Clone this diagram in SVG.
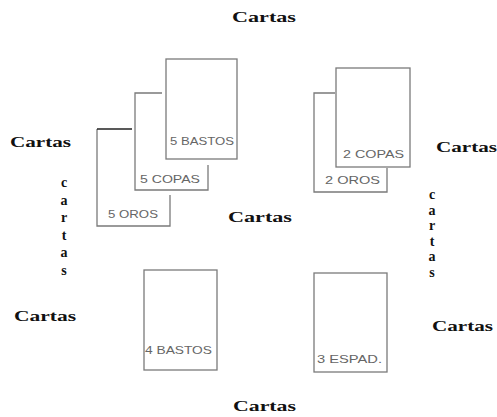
<svg xmlns="http://www.w3.org/2000/svg" width="497" height="417" viewBox="0 0 497 417">
<style>
.card{fill:#fff;stroke:#7a7a7a;stroke-width:1.3}
.edge{fill:none;stroke:#7a7a7a;stroke-width:1.3}
.lbl{font-family:"Liberation Sans",Arial,sans-serif;font-size:11.5px;fill:#666}
.ct{font-family:"Liberation Serif","Times New Roman",serif;font-weight:bold;font-size:14px;fill:#111}
.v{font-family:"Liberation Serif","Times New Roman",serif;font-weight:bold;font-size:14px;fill:#111;text-anchor:middle}
</style>
<rect width="497" height="417" fill="#fff"/>
<g id="connectors"/>
<g id="card-5oros">
<polyline class="edge" points="97,129 97,226 170,226 170,195"/>
<line x1="97" y1="129" x2="132" y2="129" stroke="#222" stroke-width="1.6"/>
<text class="lbl" x="108" y="218" textLength="50" lengthAdjust="spacingAndGlyphs">5 OROS</text>
</g>
<g id="card-5copas">
<polyline class="edge" points="162,93 135,93 135,190 208,190 208,165"/>
<text class="lbl" x="140" y="183" textLength="60" lengthAdjust="spacingAndGlyphs">5 COPAS</text>
</g>
<g id="card-5bastos">
<rect class="card" x="166" y="59" width="71" height="100"/>
<text class="lbl" x="170" y="145" textLength="64" lengthAdjust="spacingAndGlyphs">5 BASTOS</text>
</g>
<g id="card-2oros">
<polyline class="edge" points="335,93 314,93 314,192 387,192 387,168"/>
<text class="lbl" x="325" y="184" textLength="55" lengthAdjust="spacingAndGlyphs">2 OROS</text>
</g>
<g id="card-2copas">
<rect class="card" x="336" y="68" width="74" height="99"/>
<text class="lbl" x="343" y="158" textLength="61" lengthAdjust="spacingAndGlyphs">2 COPAS</text>
</g>
<g id="card-4bastos">
<rect class="card" x="144" y="270" width="73" height="100"/>
<text class="lbl" x="145" y="354" textLength="67" lengthAdjust="spacingAndGlyphs">4 BASTOS</text>
</g>
<g id="card-3espad">
<rect class="card" x="314" y="273" width="73" height="99"/>
<text class="lbl" x="317" y="363" textLength="65" lengthAdjust="spacingAndGlyphs">3 ESPAD.</text>
</g>
<g id="labels">
<text class="ct" x="232" y="22" textLength="64" lengthAdjust="spacingAndGlyphs">Cartas</text>
<text class="ct" x="10" y="147" textLength="61" lengthAdjust="spacingAndGlyphs">Cartas</text>
<text class="ct" x="14" y="321" textLength="62" lengthAdjust="spacingAndGlyphs">Cartas</text>
<text class="ct" x="228" y="222" textLength="64" lengthAdjust="spacingAndGlyphs">Cartas</text>
<text class="ct" x="436" y="152" textLength="61" lengthAdjust="spacingAndGlyphs">Cartas</text>
<text class="ct" x="432" y="331" textLength="61" lengthAdjust="spacingAndGlyphs">Cartas</text>
<text class="ct" x="233" y="411" textLength="63" lengthAdjust="spacingAndGlyphs">Cartas</text>
</g>
<g id="vertical-left">
<text class="v" x="64" y="187">c</text>
<text class="v" x="64" y="204.5">a</text>
<text class="v" x="64" y="222">r</text>
<text class="v" x="64" y="239.5">t</text>
<text class="v" x="64" y="257">a</text>
<text class="v" x="64" y="274.5">s</text>
</g>
<g id="vertical-right">
<text class="v" x="432" y="199">c</text>
<text class="v" x="432" y="214.6">a</text>
<text class="v" x="432" y="230.2">r</text>
<text class="v" x="432" y="245.8">t</text>
<text class="v" x="432" y="261.4">a</text>
<text class="v" x="432" y="277">s</text>
</g>
</svg>
